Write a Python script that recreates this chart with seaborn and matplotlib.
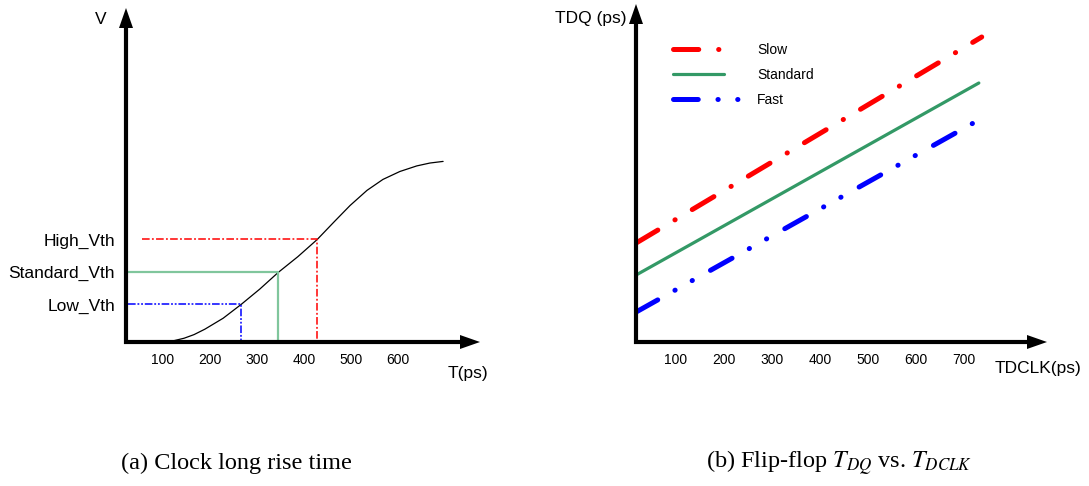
import numpy as np
import matplotlib
matplotlib.use('Agg')
import matplotlib.pyplot as plt
from matplotlib.patches import Polygon
from matplotlib.lines import Line2D
from matplotlib.legend_handler import HandlerLine2D
import seaborn as sns

# (a) clock edge with a long rise time
rise_t = [100, 121, 145, 166, 189, 228, 266, 306, 345, 387, 428, 464, 498, 534,
          568, 604, 640, 668, 696]
rise_v = [0.0, 0.006, 0.021, 0.041, 0.071, 0.132, 0.208, 0.294, 0.386, 0.474,
          0.569, 0.667, 0.758, 0.842, 0.903, 0.947, 0.978, 0.994, 1.003]
t_ticks = [100, 200, 300, 400, 500, 600]

vth_names = ['Low_Vth', 'Standard_Vth', 'High_Vth']
vth_level = [0.209, 0.39, 0.57]
vth_cross = [266, 345, 428]
vth_from = [26, 26, 55]

# (b) TDQ vs TDCLK for the three flip-flop flavours (arbitrary ps scale)
ff_names = ['Slow', 'Standard', 'Fast']
tdclk_start = [17, 17, 17]
tdclk_end = [737, 731, 727]
tdq_start = [198, 134, 60]
tdq_end = [610, 518, 442]
clk_ticks = [100, 200, 300, 400, 500, 600, 700]

sns.set_style('white')
plt.rcParams['font.family'] = ['Liberation Sans', 'DejaVu Sans']
plt.rcParams['mathtext.fontset'] = 'stix'
for k in ('text.color', 'xtick.color', 'ytick.color', 'xtick.labelcolor',
          'ytick.labelcolor', 'axes.labelcolor'):
    plt.rcParams[k] = 'black'

W, H = 1089, 486
fig = plt.figure(figsize=(W / 100, H / 100), dpi=100)


def fx(x):
    return x / W


def fy(y):
    return 1 - y / H


def axis_arrow(x0, y0, x1, y1, L=20, hw=7):
    # thick axis line ending in a solid triangle, given in picture pixels
    dx, dy = x1 - x0, y1 - y0
    n = np.hypot(dx, dy)
    ux, uy = dx / n, dy / n
    bx, by = x1 - ux * L, y1 - uy * L
    fig.add_artist(Line2D([fx(x0), fx(bx + ux)], [fy(y0), fy(by + uy)], lw=3,
                          color='black', solid_capstyle='butt',
                          transform=fig.transFigure))
    head = Polygon([[fx(x1), fy(y1)],
                    [fx(bx - uy * hw), fy(by + ux * hw)],
                    [fx(bx + uy * hw), fy(by - ux * hw)]],
                   closed=True, color='black', lw=0, transform=fig.transFigure)
    fig.add_artist(head)


class ShortLine(HandlerLine2D):
    # legend handle drawn over only part of the handle box
    def __init__(self, frac, **kw):
        super().__init__(**kw)
        self.frac = frac

    def create_artists(self, legend, orig_handle, xdescent, ydescent, width,
                       height, fontsize, trans):
        return super().create_artists(legend, orig_handle, xdescent, ydescent,
                                      width * self.frac, height, fontsize, trans)


ax1 = fig.add_axes([fx(126), fy(342), (480 - 126) / W, (342 - 8) / H])
ax2 = fig.add_axes([fx(636), fy(342), (1047 - 636) / W, (342 - 4) / H])

# ---- (a)
sns.lineplot(x=rise_t, y=rise_v, ax=ax1, color='black', linewidth=0.9,
             estimator=None, sort=False)

vth_colors = ['#0000ff', '#80c69c', '#ff0000']
vth_styles = [(0, (5, 1.2, 1.2, 1.2, 1.2, 1.2)), '-', (0, (5, 1.5, 1.2, 1.5))]
vth_lw = [1.1, 1.6, 1.1]
for lev, cx, x0, c, ls, lw in zip(vth_level, vth_cross, vth_from, vth_colors,
                                  vth_styles, vth_lw):
    sns.lineplot(x=[x0, cx, cx], y=[lev, lev, 0], ax=ax1, color=c,
                 linewidth=lw, linestyle=ls, estimator=None, sort=False)

ax1.set_xlim(21.3, 774.5)
ax1.set_ylim(0, 1.855)
ax1.set_xticks(t_ticks)
ax1.set_yticks(vth_level, vth_names)
ax1.tick_params(axis='x', length=0, pad=8, labelsize=10)
ax1.tick_params(axis='y', length=0, pad=8, labelsize=12.5)
ax1.set_xlabel('')
ax1.set_ylabel('')

# ---- (b)
ff_colors = ['#ff0000', '#339966', '#0000ff']
ff_styles = [(0, (5.05, 3.98, 0.05, 3.98)), '-',
             (0, (4.95, 3.94, 0.05, 3.9, 0.05, 4.15))]
ff_lw = [3.6, 2.3, 3.6]
for name, s, e, a, b, c, ls, lw in zip(ff_names, tdclk_start, tdclk_end,
                                       tdq_start, tdq_end, ff_colors,
                                       ff_styles, ff_lw):
    sns.lineplot(x=[s, e], y=[a, b], ax=ax2, color=c, linewidth=lw,
                 linestyle=ls, dash_capstyle='round', label=name,
                 estimator=None, sort=False)

ax2.set_xlim(16.7, 873)
ax2.set_ylim(0, 676)
ax2.set_xticks(clk_ticks)
ax2.set_yticks([])
ax2.tick_params(axis='x', length=0, pad=8, labelsize=10)
ax2.set_xlabel('')
ax2.set_ylabel('')
handles, labels = ax2.get_legend_handles_labels()
ax2.legend(handles, labels, loc='upper left',
           bbox_to_anchor=(fx(673), fy(42.5)),
           bbox_transform=fig.transFigure, frameon=False, fontsize=10,
           handlelength=5.0, handletextpad=1.05, labelspacing=0.8,
           borderpad=0, borderaxespad=0,
           handler_map={handles[0]: ShortLine(0.74),
                        handles[1]: ShortLine(0.74)})

for ax in (ax1, ax2):
    for sp in ax.spines.values():
        sp.set_visible(False)
    ax.patch.set_alpha(0)

axis_arrow(126, 344, 126, 8)
axis_arrow(124, 342, 480, 342)
axis_arrow(636, 344, 636, 4)
axis_arrow(634, 342, 1047, 342)

fig.text(fx(101), fy(19), 'V', ha='center', va='center', fontsize=12.5)
fig.text(fx(468), fy(373), 'T(ps)', ha='center', va='center', fontsize=12.5)
fig.text(fx(591), fy(18), 'TDQ (ps)', ha='center', va='center', fontsize=12.5)
fig.text(fx(1038), fy(368), 'TDCLK(ps)', ha='center', va='center', fontsize=12.5)

fig.text(fx(236), fy(463), '(a) Clock long rise time', ha='center', va='center',
         fontsize=17.5, family=['Liberation Serif', 'DejaVu Serif'])
fig.text(fx(839), fy(463), r'(b) Flip-flop $T_{DQ}$ vs. $T_{DCLK}$',
         ha='center', va='center', fontsize=17.5,
         family=['Liberation Serif', 'DejaVu Serif'])

fig.savefig('out.png', dpi=100)
